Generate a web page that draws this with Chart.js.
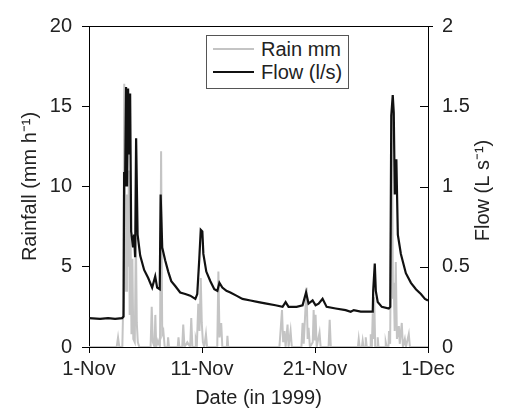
<!DOCTYPE html>
<html>
<head>
<meta charset="utf-8">
<script src="https://cdn.jsdelivr.net/npm/chart.js@4.4.1/dist/chart.umd.min.js"></script>
<style>
  body { margin: 0; background: #fff; }
  #wrap { position: relative; width: 510px; height: 415px; }
  #legend {
    position: absolute; left: 206px; top: 35px; width: 141px; height: 52px;
    border: 1px solid #555; background: #fff; color: #222;
    font: 20px 'Liberation Sans', Arial, sans-serif;
  }
  .row { position: absolute; left: 0; height: 22px; display: flex; align-items: center; white-space: nowrap; }
  .swatch { width: 41px; height: 0; border-top: 2px solid; margin: 0 7px 0 6px; }
</style>
</head>
<body>
<div id="wrap">
  <canvas id="chart" width="510" height="415"></canvas>
  <div id="legend">
    <div class="row" style="top:2px"><span class="swatch" style="border-color:#c4c4c4"></span>Rain mm</div>
    <div class="row" style="top:25px"><span class="swatch" style="border-color:#111"></span>Flow (l/s)</div>
  </div>
</div>
<script>
// days since 1 Nov 1999
const xTickLabels = ['1-Nov', '11-Nov', '21-Nov', '1-Dec'];
const rainTicks = [0, 5, 10, 15, 20];
const flowTicks = [0, 0.5, 1, 1.5, 2];
const flowTitle = 'Flow (L s\u207B\u00B9)';

const flowDay = [0, 0.98, 1.69, 2.31, 2.93, 3.06, 3.11, 3.19, 3.28, 3.37, 3.46, 3.55, 3.64, 3.73, 3.9, 3.99, 4.08, 4.17, 4.3,
  4.53, 4.88, 5.24, 5.59, 5.86, 6.03, 6.26, 6.34, 6.48, 6.74, 7.01, 7.28, 7.63, 8.07, 8.52, 8.96, 9.41, 9.58, 9.76, 9.89,
  10.03, 10.12, 10.38, 10.74, 11.09, 11.36, 11.54, 11.8, 12.16, 12.51, 13.04, 13.58, 14.29, 15.0, 15.71, 16.5, 17.13,
  17.4, 17.66, 18.37, 18.9, 19.21, 19.43, 19.79, 20.05, 20.32, 20.67, 21.03, 21.83, 22.71, 23.16, 23.43, 24.05, 24.76,
  25.11, 25.15, 25.29, 25.38, 25.55, 25.91, 26.53, 26.66, 26.75, 26.88, 26.97, 27.06, 27.2, 27.33, 27.6, 28.04, 28.49,
  28.93, 29.37, 29.73, 30];
const flowLs = [0.18, 0.175, 0.18, 0.175, 0.18, 0.19, 1.09, 1.0, 1.62, 1.0, 1.61, 1.2, 1.58, 0.72, 0.62, 0.7, 0.56, 1.3, 0.7,
  0.57, 0.48, 0.43, 0.37, 0.44, 0.37, 0.36, 0.95, 0.62, 0.54, 0.47, 0.41, 0.38, 0.34, 0.33, 0.32, 0.3, 0.33, 0.55, 0.73,
  0.72, 0.58, 0.47, 0.41, 0.36, 0.35, 0.4, 0.37, 0.35, 0.34, 0.32, 0.3, 0.29, 0.28, 0.27, 0.26, 0.25,
  0.28, 0.25, 0.25, 0.26, 0.34, 0.27, 0.29, 0.26, 0.27, 0.3, 0.25, 0.24, 0.23, 0.22, 0.23, 0.22, 0.22,
  0.22, 0.35, 0.52, 0.35, 0.28, 0.25, 0.24, 0.25, 1.44, 1.57, 1.46, 0.95, 1.17, 0.7, 0.58, 0.46, 0.4,
  0.36, 0.33, 0.3, 0.29];

const rainDay = [0, 2.45, 2.57, 2.68, 2.95, 3.04, 3.12, 3.2, 3.28, 3.36, 3.45, 3.53, 3.6, 3.68, 3.76, 3.84, 3.92, 4.05,
  4.15, 4.23, 4.32, 4.45, 5.45, 5.55, 5.65, 5.8, 5.87, 5.95, 6.1, 6.28, 6.38, 6.48, 6.58, 6.7, 6.95, 7.0, 7.08, 7.85,
  7.92, 8.0, 8.25, 8.34, 8.45, 8.7, 8.95, 9.05, 9.15, 9.4, 9.45, 9.55, 9.67, 9.78, 9.89, 9.98, 10.08, 10.2, 10.35,
  10.45, 11.35, 11.45, 11.55, 11.7, 11.8, 12.2, 12.25, 12.32, 16.85, 16.95, 17.08, 17.18, 17.3, 17.4, 17.57, 17.66,
  17.84, 17.95, 18.8, 18.9, 19.0, 19.25, 19.35, 19.43, 19.55, 19.8, 19.88, 19.96, 20.05, 20.15, 20.4, 20.5, 21.2,
  21.3, 21.4, 23.8, 23.87, 23.95, 24.15, 24.22, 24.3, 24.45, 24.49, 24.58, 24.88, 24.93, 25.03, 25.11, 25.18,
  25.24, 25.33, 25.5, 25.55, 25.62, 26.2, 26.26, 26.35, 26.5, 26.55, 26.65, 26.8, 26.9, 26.97, 27.05, 27.15,
  27.25, 27.42, 27.5, 27.68, 27.78, 27.95, 28.05, 28.3, 28.4, 30];
const rainMm = [0, 0, 0.6, 0, 0, 3, 16.4, 8.5, 3.5, 9.5, 5, 11, 2, 7, 0.8, 5.5, 0.5, 0.3,
  6.8, 1.5, 0.3, 0, 0, 2.5, 0.3, 0, 2.0, 0, 0.4, 0, 12.2, 0.8, 1.0, 0, 0, 0.6, 0, 0,
  0.6, 0, 0, 1.4, 0, 0.3, 0, 1.8, 0, 0, 0.5, 0.2, 2.7, 1, 4.3, 1.5, 0.3, 0, 0.8,
  0, 0, 4.7, 0.6, 1.5, 0, 0, 0.7, 0, 0, 1.0, 2.3, 0.3, 1.0, 0, 1.4, 0,
  1.0, 0, 0, 1.5, 0.2, 3.7, 0.5, 1.2, 0, 0.3, 2.3, 0.4, 2.0, 0, 0.9, 0, 0,
  1.7, 0, 0, 0.5, 0, 0, 0.4, 0, 0, 0.6, 0, 0, 0.8, 0, 2.1, 0.5,
  3.1, 0, 0, 0.6, 0, 0, 0.3, 0, 0, 1.0, 0.2, 14.5, 3, 4, 1, 5.3,
  0.5, 1.3, 0.2, 1.5, 0, 0.5, 0, 0.8, 0, 0];

const FONT = "'Liberation Sans', Arial, sans-serif";
const tickFont = { family: FONT, size: 20 };
const titleFont = { family: FONT, size: 20 };

// top border, inward ticks on the flow axis, and the flow title read bottom-to-top
const frame = {
  id: 'frame',
  afterDraw(chart) {
    const { ctx, chartArea: a, scales } = chart;
    ctx.save();
    ctx.strokeStyle = '#000';
    ctx.lineWidth = 1;
    ctx.beginPath();
    ctx.moveTo(a.left - 7, a.top + 0.5);
    ctx.lineTo(a.right + 5, a.top + 0.5);
    flowTicks.forEach((v) => {
      const y = Math.round(scales.y1.getPixelForValue(v)) + 0.5;
      ctx.moveTo(a.right - 8, y);
      ctx.lineTo(a.right, y);
    });
    ctx.stroke();

    ctx.translate(483, (a.top + a.bottom) / 2 + 4);
    ctx.rotate(-Math.PI / 2);
    ctx.font = `20px ${FONT}`;
    ctx.fillStyle = '#222';
    ctx.textAlign = 'center';
    ctx.textBaseline = 'middle';
    ctx.fillText(flowTitle, 0, 0);
    ctx.restore();
  }
};

new Chart(document.getElementById('chart'), {
  type: 'line',
  data: {
    datasets: [
      {
        label: 'Flow (l/s)', yAxisID: 'y1', order: 0,
        data: flowDay.map((d, i) => ({ x: d, y: flowLs[i] })),
        borderColor: '#111', borderWidth: 2.2, pointRadius: 0, tension: 0
      },
      {
        label: 'Rain mm', yAxisID: 'y', order: 1,
        data: rainDay.map((d, i) => ({ x: d, y: rainMm[i] })),
        borderColor: '#c4c4c4', borderWidth: 2, pointRadius: 0, tension: 0
      }
    ]
  },
  options: {
    responsive: false,
    animation: false,
    layout: { padding: { top: 22, left: 0, right: 0, bottom: 0 } },
    plugins: { legend: { display: false }, tooltip: { enabled: false } },
    scales: {
      x: {
        type: 'linear', min: 0, max: 30,
        afterFit: (s) => { s.height = 68; },
        afterBuildTicks: (s) => { s.ticks = [0, 10, 20, 30].map((v) => ({ value: v })); },
        border: { color: '#000', width: 1 },
        grid: { drawOnChartArea: false, tickLength: 6, color: '#000' },
        ticks: { font: tickFont, color: '#222', padding: 4, maxRotation: 0, callback: (v) => xTickLabels[v / 10] },
        title: { display: true, text: 'Date (in 1999)', font: titleFont, color: '#222', padding: { top: 0, bottom: 5 } }
      },
      y: {
        position: 'left', min: 0, max: 20,
        afterFit: (s) => { s.width = 89; },
        afterBuildTicks: (s) => { s.ticks = rainTicks.map((v) => ({ value: v })); },
        border: { color: '#000', width: 1 },
        grid: { drawOnChartArea: false, tickLength: 7, color: '#000' },
        ticks: { font: tickFont, color: '#222', padding: 10 },
        title: { display: true, text: 'Rainfall (mm h\u207B\u00B9)', font: titleFont, color: '#222', padding: { top: 18, bottom: 0 } }
      },
      y1: {
        position: 'right', min: 0, max: 2,
        afterFit: (s) => { s.width = 82; },
        afterBuildTicks: (s) => { s.ticks = flowTicks.map((v) => ({ value: v })); },
        border: { color: '#000', width: 1 },
        grid: { drawOnChartArea: false, drawTicks: false },
        ticks: { font: tickFont, color: '#222', padding: 14, callback: (v) => String(v) },
        title: { display: false }
      }
    }
  },
  plugins: [frame]
});
</script>
</body>
</html>
